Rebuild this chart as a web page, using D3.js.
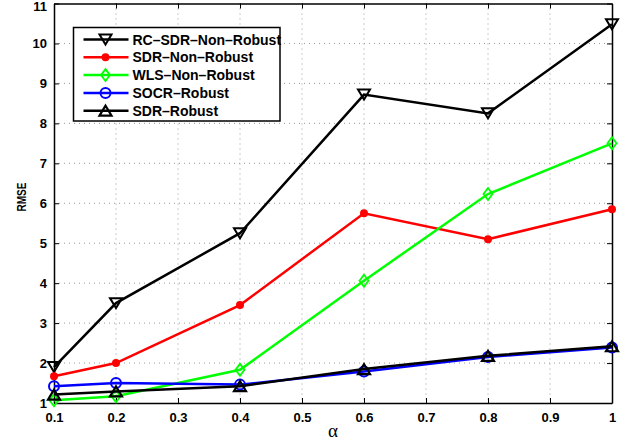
<!DOCTYPE html>
<html>
<head>
<meta charset="utf-8">
<script src="https://cdn.jsdelivr.net/npm/d3@7"></script>
<style>
  body { margin: 0; background: #fff; }
  svg text { font-family: "Liberation Sans", Arial, sans-serif; }
</style>
</head>
<body>
<div id="chart"></div>
<script>
// chart data
const alphas = [0.1, 0.2, 0.4, 0.6, 0.8, 1.0];
const rcSdrNonRobust = [1.9, 3.5, 5.25, 8.72, 8.25, 10.48];
const sdrNonRobust = [1.67, 2.0, 3.45, 5.75, 5.1, 5.85];
const wlsNonRobust = [1.07, 1.17, 1.83, 4.06, 6.23, 7.5];
const socrRobust = [1.42, 1.5, 1.46, 1.79, 2.15, 2.39];
const sdrRobust = [1.21, 1.29, 1.42, 1.85, 2.18, 2.42];
const xTicks = [0.1, 0.2, 0.3, 0.4, 0.5, 0.6, 0.7, 0.8, 0.9, 1];
const yTicks = [1, 2, 3, 4, 5, 6, 7, 8, 9, 10, 11];

const series = [
  { name: "RC\u2013SDR\u2013Non\u2013Robust", values: rcSdrNonRobust, color: "#000", marker: "tdown" },
  { name: "SDR\u2013Non\u2013Robust", values: sdrNonRobust, color: "#ff0000", marker: "dot" },
  { name: "WLS\u2013Non\u2013Robust", values: wlsNonRobust, color: "#00ff00", marker: "diamond" },
  { name: "SOCR\u2013Robust", values: socrRobust, color: "#0000ff", marker: "circle" },
  { name: "SDR\u2013Robust", values: sdrRobust, color: "#000", marker: "tup" }
];

const W = 634, H = 444;
const margin = { top: 3.5, right: 22, bottom: 41, left: 54 };
const width = W - margin.left - margin.right;
const height = H - margin.top - margin.bottom;

const svg = d3.select("#chart").append("svg")
  .attr("width", W).attr("height", H);
const g = svg.append("g")
  .attr("transform", `translate(${margin.left},${margin.top})`);

const x = d3.scaleLinear().domain([0.1, 1]).range([0, width]);
const y = d3.scaleLinear().domain([1, 11]).range([height, 0]);

// dotted grid
g.append("g").selectAll("line").data(xTicks.slice(1, -1)).join("line")
  .attr("x1", d => x(d)).attr("x2", d => x(d))
  .attr("y1", 0).attr("y2", height)
  .attr("stroke", "#999").attr("stroke-width", 1).attr("stroke-dasharray", "1,4");
g.append("g").selectAll("line").data(yTicks.slice(1, -1)).join("line")
  .attr("y1", d => y(d)).attr("y2", d => y(d))
  .attr("x1", 0).attr("x2", width)
  .attr("stroke", "#999").attr("stroke-width", 1).attr("stroke-dasharray", "1,4");

// axes with inward ticks
g.append("g").attr("transform", `translate(0,${height})`)
  .call(d3.axisBottom(x).tickValues(xTicks).tickSizeInner(-5).tickSizeOuter(0).tickPadding(10)
    .tickFormat(d => d === 1 ? "1" : d3.format(".1f")(d)));
const yAxis = g.append("g")
  .call(d3.axisLeft(y).tickValues(yTicks).tickSizeInner(-5).tickSizeOuter(0).tickPadding(7));
g.append("g")
  .call(d3.axisTop(x).tickValues(xTicks).tickSizeInner(-5).tickSizeOuter(0).tickFormat(""));
g.append("g").attr("transform", `translate(${width},0)`)
  .call(d3.axisRight(y).tickValues(yTicks).tickSizeInner(-5).tickSizeOuter(0).tickFormat(""));

g.selectAll(".domain").attr("stroke", "#000").attr("stroke-width", 1.5);
g.selectAll(".tick line").attr("stroke", "#000");
g.selectAll(".tick text")
  .attr("font-size", 13).attr("font-weight", "bold").attr("fill", "#000")
  .style("font-family", "'Liberation Sans', Arial, sans-serif");
// top label "11" sits right at the edge: nudge it just inside the page
yAxis.selectAll(".tick text").filter(d => d === 11).attr("dy", "0.5em");

// axis labels
svg.append("text")
  .attr("x", 333).attr("y", 437)
  .attr("text-anchor", "middle")
  .attr("font-size", 19)
  .style("font-family", "'Liberation Serif', 'DejaVu Serif', serif")
  .text("\u03b1");
svg.append("text")
  .attr("transform", "translate(26,197) rotate(-90)")
  .attr("text-anchor", "middle")
  .attr("font-size", 12.5).attr("font-weight", "bold")
  .attr("textLength", 29).attr("lengthAdjust", "spacingAndGlyphs")
  .text("RMSE");

// marker drawing
function drawMarker(sel, type, color) {
  if (type === "tdown") {
    sel.append("path").attr("d", "M-6,-5L6,-5L0,5Z")
      .attr("fill", "none").attr("stroke", color).attr("stroke-width", 2);
  } else if (type === "tup") {
    sel.append("path").attr("d", "M-6,5L6,5L0,-5Z")
      .attr("fill", "none").attr("stroke", color).attr("stroke-width", 2.2);
  } else if (type === "dot") {
    sel.append("circle").attr("r", 4).attr("fill", color);
  } else if (type === "diamond") {
    sel.append("path").attr("d", "M0,-6L4.5,0L0,6L-4.5,0Z")
      .attr("fill", "none").attr("stroke", color).attr("stroke-width", 1.8);
  } else if (type === "circle") {
    sel.append("circle").attr("r", 5)
      .attr("fill", "none").attr("stroke", color).attr("stroke-width", 2);
  }
}

const line = d3.line().x((d, i) => x(alphas[i])).y(d => y(d));

series.forEach(s => {
  g.append("path").datum(s.values)
    .attr("d", line)
    .attr("fill", "none").attr("stroke", s.color).attr("stroke-width", 2.5);
  s.values.forEach((v, i) => {
    const m = g.append("g").attr("transform", `translate(${x(alphas[i])},${y(v)})`);
    drawMarker(m, s.marker, s.color);
  });
});

// legend
const legend = svg.append("g").attr("transform", "translate(73.5,27.5)");
legend.append("rect")
  .attr("width", 206.5).attr("height", 93.5)
  .attr("fill", "#fff").attr("stroke", "#000").attr("stroke-width", 1.5);
series.forEach((s, i) => {
  const row = legend.append("g").attr("transform", `translate(0,${12 + i * 17.8})`);
  row.append("line").attr("x1", 10).attr("x2", 55)
    .attr("stroke", s.color).attr("stroke-width", 2.5);
  const m = row.append("g").attr("transform", "translate(32,0)");
  drawMarker(m, s.marker, s.color);
  row.append("text").attr("x", 59).attr("y", 5)
    .attr("font-size", 14).attr("font-weight", "bold")
    .text(s.name);
});
</script>
</body>
</html>
